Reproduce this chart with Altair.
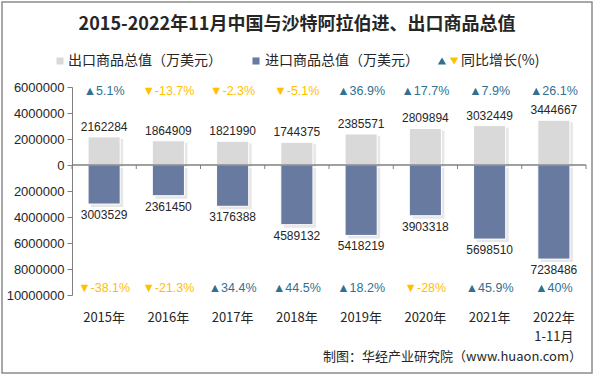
import altair as alt
import pandas as pd

years = ["2015年", "2016年", "2017年", "2018年", "2019年", "2020年", "2021年", "2022年 1-11月"]
export_vals = [2162284, 1864909, 1821990, 1744375, 2385571, 2809894, 3032449, 3444667]
import_vals = [3003529, 2361450, 3176388, 4589132, 5418219, 3903318, 5698510, 7238486]
export_growth = [5.1, -13.7, -2.3, -5.1, 36.9, 17.7, 7.9, 26.1]
import_growth = [-38.1, -21.3, 34.4, 44.5, 18.2, -28, 45.9, 40]

UP = "#31708f"
DOWN = "#ffc000"
EXP_C = "#d9d9d9"
IMP_C = "#687aa0"
FONT = "Liberation Sans"
CJK = "Noto Sans CJK SC"


def glabel(g):
    return ("▲" if g >= 0 else "▼") + f"{g:g}%"


df = pd.DataFrame({
    "year": years,
    "export": export_vals,
    "import": import_vals,
    "exp_g": export_growth,
    "imp_g": import_growth,
})
df["imp_neg"] = -df["import"]
df["exp_lab"] = [glabel(g) for g in export_growth]
df["imp_lab"] = [glabel(g) for g in import_growth]
df["exp_dir"] = ["up" if g >= 0 else "down" for g in export_growth]
df["imp_dir"] = ["up" if g >= 0 else "down" for g in import_growth]

xscale = alt.Scale(domain=years, paddingInner=0.5, paddingOuter=0.25)
yscale = alt.Scale(domain=[-10000000, 6000000], nice=False, zero=False)
yaxis = alt.Axis(
    values=list(range(-10000000, 6000001, 2000000)),
    labelExpr="format(abs(datum.value), 'd')",
    labelFont=FONT, labelFontSize=13, labelColor="#262626",
    tickSize=5, tickColor="#808080", domainColor="#808080",
    labelPadding=3, grid=False, title=None,
)
xaxis = alt.Axis(orient="bottom", domain=False, ticks=False, labelPadding=16,
                 labelFont=CJK, labelFontSize=13, labelColor="#262626",
                 labelAngle=0, labelExpr="split(datum.label, ' ')",
                 labelLineHeight=19, grid=False, title=None)
dircolor = alt.Scale(domain=["up", "down"], range=[UP, DOWN])

X = alt.X("year:N", scale=xscale, axis=xaxis, sort=years, title=None)


def Yf(field):
    return alt.Y(field, type="quantitative", scale=yscale, axis=yaxis, title=None)


def Yd(v):
    return alt.YDatum(v, type="quantitative", scale=yscale, axis=yaxis, title=None)


base = alt.Chart(df)

shadow_exp = base.mark_bar(color="#b0b0b0", opacity=0.3, xOffset=3, yOffset=2).encode(
    x=X, y=Yf("export"))
shadow_imp = base.mark_bar(color="#b0b0b0", opacity=0.3, xOffset=3, yOffset=3).encode(
    x=X, y=Yf("imp_neg"))
exp_bar = base.mark_bar(color=EXP_C, stroke="white", strokeWidth=1).encode(x=X, y=Yf("export"))
imp_bar = base.mark_bar(color=IMP_C, stroke="white", strokeWidth=1).encode(x=X, y=Yf("imp_neg"))

zero_line = alt.Chart(pd.DataFrame({"a": [0]})).mark_rule(color="#808080", strokeWidth=1.5).encode(
    y=Yd(0), x=alt.value(0), x2=alt.value(514))
zero_ticks = base.mark_rule(color="#808080", strokeWidth=1, xOffset=-32.125).encode(
    x=X, y=Yd(0), y2=alt.value(82))
zero_tick_end = alt.Chart(pd.DataFrame({"a": [0]})).mark_rule(color="#808080", strokeWidth=1).encode(
    x=alt.value(514), y=Yd(0), y2=alt.value(82))

exp_txt = base.mark_text(font=FONT, fontSize=12, color="#262626", baseline="alphabetic", dy=-6).encode(
    x=X, y=Yf("export"), text="export:Q")
imp_txt = base.mark_text(font=FONT, fontSize=12, color="#262626", baseline="top", dy=6).encode(
    x=X, y=Yf("imp_neg"), text="import:Q")

exp_g = base.mark_text(font=FONT, fontSize=12.5, baseline="middle").encode(
    x=X, y=Yd(5700000), text="exp_lab:N",
    color=alt.Color("exp_dir:N", scale=dircolor, legend=None))
imp_g = base.mark_text(font=FONT, fontSize=12.5, baseline="middle").encode(
    x=X, y=Yd(-9460000), text="imp_lab:N",
    color=alt.Color("imp_dir:N", scale=dircolor, legend=None))

one = alt.Chart(pd.DataFrame({"a": [0]}))
border = one.mark_rect(fill=None, stroke="#8c8c8c", strokeWidth=1.5).encode(
    x=alt.value(-70), x2=alt.value(520), y=alt.value(-85), y2=alt.value(286))
title = one.mark_text(text="2015-2022年11月中国与沙特阿拉伯进、出口商品总值", font=CJK,
                      fontSize=18, fontWeight="bold", color="#262626",
                      align="center", baseline="middle").encode(
    x=alt.value(225), y=alt.value(-62))
leg_sq1 = one.mark_square(color=EXP_C, size=50, opacity=1).encode(x=alt.value(-12), y=alt.value(-26))
leg_t1 = one.mark_text(text="出口商品总值（万美元）", font=CJK, fontSize=14, color="#262626",
                       align="left", baseline="middle").encode(x=alt.value(-4), y=alt.value(-26))
leg_sq2 = one.mark_square(color=IMP_C, size=50, opacity=1).encode(x=alt.value(184), y=alt.value(-26))
leg_t2 = one.mark_text(text="进口商品总值（万美元）", font=CJK, fontSize=14, color="#262626",
                       align="left", baseline="middle").encode(x=alt.value(193), y=alt.value(-26))
leg_up = one.mark_point(shape="triangle-up", filled=True, color=UP, size=70, opacity=1).encode(
    x=alt.value(370), y=alt.value(-26))
leg_dn = one.mark_point(shape="triangle-down", filled=True, color=DOWN, size=70, opacity=1).encode(
    x=alt.value(382), y=alt.value(-26))
leg_t3 = one.mark_text(text="同比增长(%)", font=CJK, fontSize=14, color="#262626",
                       align="left", baseline="middle").encode(x=alt.value(389), y=alt.value(-26))
source = one.mark_text(text="制图：华经产业研究院（www.huaon.com）", font=CJK, fontSize=13,
                       color="#262626", align="right", baseline="middle").encode(
    x=alt.value(510), y=alt.value(270))

chart = alt.layer(
    shadow_exp, shadow_imp, exp_bar, imp_bar, zero_line, zero_ticks, zero_tick_end,
    exp_txt, imp_txt, exp_g, imp_g,
    border, title, leg_sq1, leg_t1, leg_sq2, leg_t2, leg_up, leg_dn, leg_t3, source,
).properties(
    width=514, height=208,
    autosize=alt.AutoSizeParams(type="none"),
    padding={"left": 72, "top": 87, "right": 9, "bottom": 81},
    background="white",
).configure_view(stroke=None)

chart.save("out.html", embed_options={"renderer": "svg", "actions": False})
